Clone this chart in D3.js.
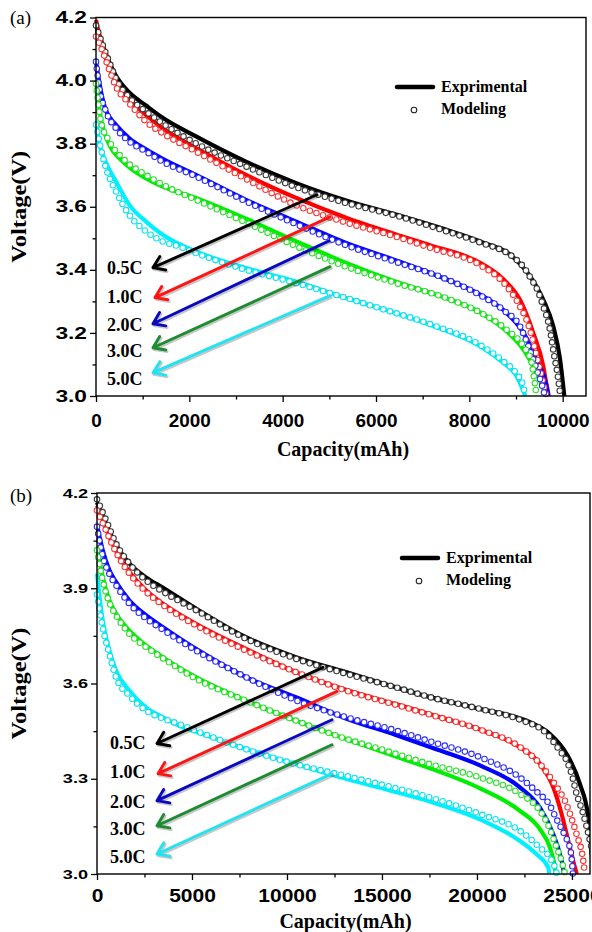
<!DOCTYPE html>
<html>
<head>
<meta charset="utf-8">
<script src="https://cdn.jsdelivr.net/npm/d3@7"></script>
<style>
  html, body { margin: 0; padding: 0; background: #fff; }
  svg { display: block; }
</style>
</head>
<body>
<svg id="chart" width="592" height="932"></svg>
<script>
// Discharge curves, experiment vs model, two cells (a) and (b)

const RATES = ['0.5C', '1.0C', '2.0C', '3.0C', '5.0C'];

// panel (a) - experimental [capacity mAh, voltage V]
const expA05 = [[0,4.176],[143,4.113],[286,4.058],[429,4.015],[714,3.962],[1071,3.921],[1429,3.882],[2143,3.823],[3214,3.743],[4290,3.675],[5360,3.62],[6430,3.575],[7510,3.527],[8230,3.49],[8940,3.44],[9300,3.38],[9585,3.305],[9800,3.22],[9940,3.12],[10035,3.0]];
const expA10 = [[0,4.192],[143,4.102],[286,4.043],[429,3.995],[714,3.94],[1071,3.891],[1429,3.849],[2143,3.786],[3214,3.701],[4290,3.628],[5360,3.565],[6430,3.512],[7160,3.478],[8230,3.422],[8730,3.37],[9085,3.305],[9370,3.2],[9585,3.094],[9690,3.0]];
const expA20 = [[0,4.06],[107,3.965],[214,3.905],[429,3.86],[714,3.817],[1071,3.782],[1429,3.752],[2143,3.701],[3214,3.622],[4290,3.553],[5360,3.485],[6430,3.43],[7510,3.37],[8230,3.322],[8800,3.263],[9160,3.2],[9440,3.115],[9660,3.03],[9700,3.0]];
const expA30 = [[0,3.997],[93,3.891],[286,3.796],[500,3.754],[714,3.725],[1071,3.69],[1429,3.664],[2143,3.628],[3214,3.562],[4290,3.49],[5360,3.422],[6430,3.362],[7510,3.31],[8230,3.265],[8800,3.205],[9160,3.147],[9440,3.073],[9660,3.0]];
const expA50 = [[0,3.87],[71,3.80],[214,3.74],[429,3.68],[714,3.606],[1071,3.553],[1429,3.511],[2143,3.458],[3214,3.406],[4286,3.363],[5357,3.311],[6085,3.278],[7157,3.226],[8228,3.158],[8728,3.105],[9014,3.063],[9200,3.0]];

// panel (a) - modeling
const modA05 = [[0,4.175],[143,4.113],[286,4.058],[429,4.005],[714,3.946],[1071,3.902],[1429,3.864],[2143,3.801],[3214,3.728],[4286,3.662],[5357,3.612],[6429,3.572],[7514,3.522],[8228,3.487],[8942,3.44],[9150,3.411],[9330,3.37],[9457,3.337],[9585,3.284],[9714,3.22],[9815,3.131],[9907,3.052],[9950,3.0]];
const modA10 = [[0,4.14],[143,4.092],[286,4.034],[429,3.981],[714,3.928],[1071,3.87],[1429,3.833],[2143,3.775],[3214,3.688],[4286,3.605],[5357,3.55],[6429,3.505],[7157,3.47],[8228,3.415],[8728,3.36],[9085,3.284],[9264,3.226],[9370,3.17],[9478,3.105],[9585,3.04],[9650,3.0]];
const modA20 = [[0,4.06],[71,3.976],[214,3.902],[429,3.849],[714,3.807],[1071,3.775],[1429,3.743],[2143,3.696],[3214,3.617],[4286,3.545],[5357,3.478],[6429,3.425],[7514,3.37],[8228,3.32],[8750,3.27],[9085,3.221],[9264,3.158],[9443,3.084],[9585,3.02],[9620,3.0]];
const modA30 = [[0,3.99],[107,3.87],[286,3.807],[571,3.754],[1071,3.701],[1429,3.67],[2143,3.622],[3214,3.55],[4286,3.475],[5357,3.41],[6429,3.358],[7514,3.31],[8228,3.265],[8800,3.21],[9157,3.158],[9336,3.105],[9371,3.073],[9443,3.0]];
const modA50 = [[0,3.86],[71,3.807],[214,3.722],[430,3.648],[714,3.574],[1071,3.522],[1429,3.49],[1786,3.474],[2143,3.453],[3214,3.4],[4286,3.358],[5357,3.311],[6085,3.278],[7157,3.228],[8228,3.162],[8728,3.11],[9014,3.07],[9157,3.031],[9190,3.0]];

// panel (b) - experimental
const expB05 = [[0,4.17],[473,4.104],[824,4.057],[1175,4.02],[1701,3.978],[2578,3.934],[3455,3.902],[5209,3.836],[7840,3.746],[10470,3.683],[13100,3.636],[15730,3.588],[17526,3.557],[20158,3.52],[22789,3.478],[23842,3.441],[24719,3.378],[25421,3.283],[25860,3.178],[26036,3.07]];
const expB10 = [[0,4.16],[473,4.09],[824,4.04],[1175,3.999],[1701,3.952],[2578,3.894],[3455,3.852],[5209,3.788],[7840,3.709],[10470,3.636],[13100,3.58],[15730,3.535],[17526,3.503],[20158,3.455],[22263,3.399],[23316,3.347],[24018,3.273],[24456,3.189],[24807,3.104],[25158,3.02],[25250,3.0]];
const expB20 = [[0,4.1],[298,4.02],[649,3.957],[1000,3.92],[1701,3.862],[2578,3.815],[3455,3.778],[5209,3.709],[7840,3.62],[10470,3.557],[13100,3.49],[15730,3.438],[17526,3.40],[20158,3.342],[22263,3.273],[23316,3.209],[24018,3.125],[24368,3.062],[24544,3.015],[24580,3.0]];
const expB30 = [[0,4.03],[298,3.936],[649,3.862],[1000,3.82],[1701,3.767],[2578,3.72],[3455,3.683],[5209,3.62],[7840,3.546],[10470,3.483],[13100,3.425],[15730,3.37],[17526,3.333],[20158,3.27],[22263,3.199],[23316,3.141],[23842,3.083],[24105,3.02],[24150,3.0]];
const expB50 = [[0,3.946],[298,3.799],[649,3.704],[1000,3.641],[1701,3.578],[2578,3.525],[3455,3.494],[4332,3.467],[5209,3.448],[7840,3.394],[10470,3.346],[13100,3.30],[15730,3.258],[17526,3.228],[20158,3.172],[22263,3.104],[23140,3.062],[23754,3.02],[23800,3.0]];

// panel (b) - modeling
const modB05 = [[0,4.18],[473,4.115],[1000,4.041],[1701,3.978],[2578,3.925],[3455,3.89],[5209,3.831],[7840,3.741],[10470,3.678],[13100,3.631],[15730,3.588],[17526,3.557],[20158,3.52],[22263,3.486],[23684,3.441],[24368,3.388],[24719,3.357],[24982,3.315],[25246,3.252],[25596,3.189],[25947,3.104],[26100,3.06]];
const modB10 = [[0,4.145],[473,4.082],[824,4.035],[1175,3.995],[1701,3.947],[2578,3.889],[3455,3.848],[5209,3.783],[7840,3.704],[10470,3.636],[13100,3.578],[15730,3.533],[17526,3.502],[20158,3.455],[22263,3.40],[23316,3.347],[24018,3.29],[24368,3.258],[24632,3.231],[24895,3.189],[25246,3.125],[25596,3.041],[25680,3.0]];
const modB20 = [[0,4.094],[298,4.0],[649,3.945],[1000,3.91],[1701,3.852],[2578,3.805],[3455,3.77],[5209,3.704],[7840,3.62],[10470,3.547],[13100,3.494],[15730,3.452],[17526,3.418],[20158,3.368],[22263,3.304],[23316,3.25],[23668,3.231],[24281,3.162],[24596,3.125],[24947,3.067],[25050,3.0]];
const modB30 = [[0,4.02],[298,3.925],[649,3.855],[1000,3.815],[1701,3.757],[2578,3.715],[3455,3.68],[5209,3.615],[7840,3.546],[10470,3.483],[13100,3.426],[14895,3.394],[17526,3.346],[20158,3.304],[22263,3.252],[23316,3.199],[23842,3.141],[24193,3.083],[24456,3.041],[24632,3.0]];
const modB50 = [[0,3.88],[298,3.777],[649,3.693],[1000,3.62],[1701,3.562],[2578,3.515],[3455,3.49],[4332,3.472],[5209,3.451],[7840,3.393],[10470,3.346],[13100,3.309],[14895,3.283],[17526,3.241],[20158,3.189],[22263,3.136],[23316,3.083],[23842,3.052],[24105,3.02],[24200,3.0]];

// arrow annotations in data units: [fromCap, fromV, toCap, toV]
const arrowsA = [[4735,3.638,1221,3.407],[5014,3.568,1264,3.312],[4993,3.492,1221,3.229],[5014,3.410,1221,3.153],[5014,3.318,1221,3.074]];
const arrowsB = [[11895,3.651,3158,3.411],[12632,3.575,3211,3.316],[12368,3.486,3158,3.231],[12368,3.407,3158,3.152],[12368,3.316,3158,3.063]];
// rate label anchors (capacity, baseline voltage)
const labelsA = [[236,3.388],[236,3.296],[236,3.207],[236,3.125],[236,3.036]];
const labelsB = [[684,3.394],[684,3.303],[684,3.208],[684,3.123],[684,3.035]];

// ticks
const xTicksA = [0, 2000, 4000, 6000, 8000, 10000];
const xMinorA = [1000, 3000, 5000, 7000, 9000];
const yTicksA = [3.0, 3.2, 3.4, 3.6, 3.8, 4.0, 4.2];
const yMinorA = [3.1, 3.3, 3.5, 3.7, 3.9, 4.1];
const xTicksB = [0, 5000, 10000, 15000, 20000, 25000];
const xMinorB = [2500, 7500, 12500, 17500, 22500];
const yTicksB = [3.0, 3.3, 3.6, 3.9, 4.2];
const yMinorB = [3.15, 3.45, 3.75, 4.05];

const LINE_COLORS = ['#000000', '#ff0000', '#0000ff', '#00ee00', '#00f0ff'];
const DOT_COLORS = ['#3a3a3a', '#f03a3a', '#3030f0', '#30dd30', '#10e0ee'];
const ARROW_COLORS = ['#000000', '#ff1414', '#0808c0', '#1c8c30', '#22e4f0'];

const SANS = "'Liberation Sans', Arial, sans-serif";
const SERIF = "'Liberation Serif', 'Times New Roman', serif";

const svg = d3.select('#chart');

const panels = [
    {
        id: 'a', tag: '(a)', tagY: 24,
        left: 96, right: 586, top: 17.5, bottom: 396, xMax: 10500,
        exp: [expA05, expA10, expA20, expA30, expA50],
        mod: [modA05, modA10, modA20, modA30, modA50],
        arrows: arrowsA, labels: labelsA,
        xTicks: xTicksA, xMinor: xMinorA, yTicks: yTicksA, yMinor: yMinorA,
        yFont: 16, yStretch: 1.42, xFont: 17.5, xStretch: 1.08, xPad: 13,
        xTitleY: 456, legend: { x: 397, y: 87 }
    },
    {
        id: 'b', tag: '(b)', tagY: 502,
        left: 97, right: 590, top: 493, bottom: 874, xMax: 25950,
        exp: [expB05, expB10, expB20, expB30, expB50],
        mod: [modB05, modB10, modB20, modB30, modB50],
        arrows: arrowsB, labels: labelsB,
        xTicks: xTicksB, xMinor: xMinorB, yTicks: yTicksB, yMinor: yMinorB,
        yFont: 12.5, yStretch: 1.45, xFont: 17.5, xStretch: 1.2, xPad: 10,
        xTitleY: 928, legend: { x: 402, y: 558 }
    }
];

function stretchText(sel, factor) {
    sel.each(function () {
        const w = this.getComputedTextLength();
        if (w > 0) {
            d3.select(this)
                .attr('textLength', w * factor)
                .attr('lengthAdjust', 'spacingAndGlyphs');
        }
    });
}

function drawArrow(g, x1, y1, x2, y2, color) {
    const ang = Math.atan2(y2 - y1, x2 - x1);
    const L = 13, spread = 0.6;
    const h1 = [x2 - L * Math.cos(ang - spread), y2 - L * Math.sin(ang - spread)];
    const h2 = [x2 - L * Math.cos(ang + spread), y2 - L * Math.sin(ang + spread)];
    const d = (dx, dy) => `M${x1 + dx},${y1 + dy}L${x2 + dx},${y2 + dy}` +
        `M${h1[0] + dx},${h1[1] + dy}L${x2 + dx},${y2 + dy}L${h2[0] + dx},${h2[1] + dy}`;

    // soft drop shadow
    g.append('path')
        .attr('d', d(1.2, 1.6))
        .attr('fill', 'none')
        .attr('stroke', 'rgba(0,0,0,0.22)')
        .attr('stroke-width', 3.2)
        .attr('stroke-linecap', 'round')
        .attr('stroke-linejoin', 'round');

    g.append('path')
        .attr('d', d(0, 0))
        .attr('fill', 'none')
        .attr('stroke', color)
        .attr('stroke-width', 2.9)
        .attr('stroke-linecap', 'round')
        .attr('stroke-linejoin', 'round');
}

function drawPanel(p) {
    const x = d3.scaleLinear().domain([0, p.xMax]).range([p.left, p.right]);
    const y = d3.scaleLinear().domain([3.0, 4.2]).range([p.bottom, p.top]);

    const clipId = `clip-${p.id}`;
    svg.append('clipPath').attr('id', clipId)
        .append('rect')
        .attr('x', p.left - 5)
        .attr('y', p.top - 5)
        .attr('width', p.right - p.left + 5)
        .attr('height', p.bottom - p.top + 8);

    const line = d3.line()
        .x(d => x(d[0]))
        .y(d => y(d[1]))
        .curve(d3.curveMonotoneX);

    const plot = svg.append('g').attr('clip-path', `url(#${clipId})`);

    // experimental curves
    p.exp.forEach((series, i) => {
        plot.append('path')
            .datum(series)
            .attr('fill', 'none')
            .attr('stroke', LINE_COLORS[i])
            .attr('stroke-width', 4.2)
            .attr('stroke-linejoin', 'round')
            .attr('d', line);
    });

    // modeling curves drawn as a row of open circles
    p.mod.forEach((series, i) => {
        plot.append('path')
            .datum(series)
            .attr('fill', 'none')
            .attr('stroke', DOT_COLORS[i])
            .attr('stroke-width', 6.6)
            .attr('stroke-linecap', 'round')
            .attr('stroke-dasharray', '0 7')
            .attr('d', line);
        plot.append('path')
            .datum(series)
            .attr('fill', 'none')
            .attr('stroke', '#ffffff')
            .attr('stroke-width', 4.4)
            .attr('stroke-linecap', 'round')
            .attr('stroke-dasharray', '0 7')
            .attr('d', line);
    });

    // frame
    svg.append('rect')
        .attr('x', p.left)
        .attr('y', p.top)
        .attr('width', p.right - p.left)
        .attr('height', p.bottom - p.top)
        .attr('fill', 'none')
        .attr('stroke', '#000')
        .attr('stroke-width', 1.4);

    // x axis
    const gx = svg.append('g')
        .attr('transform', `translate(0,${p.bottom})`)
        .call(d3.axisBottom(x).tickValues(p.xTicks).tickSize(6).tickPadding(p.xPad).tickFormat(d3.format('d')));
    svg.append('g')
        .attr('transform', `translate(0,${p.bottom})`)
        .call(d3.axisBottom(x).tickValues(p.xMinor).tickSize(3.5).tickFormat(''));

    // y axis
    const gy = svg.append('g')
        .attr('transform', `translate(${p.left},0)`)
        .call(d3.axisLeft(y).tickValues(p.yTicks).tickSize(6).tickPadding(3).tickFormat(d3.format('.1f')));
    svg.append('g')
        .attr('transform', `translate(${p.left},0)`)
        .call(d3.axisLeft(y).tickValues(p.yMinor).tickSize(3.5).tickFormat(''));

    svg.selectAll('.domain').remove();
    svg.selectAll('.tick line').attr('stroke', '#000').attr('stroke-width', 1.3);

    gx.selectAll('text')
        .attr('font-family', SANS)
        .attr('font-weight', 'bold')
        .attr('font-size', p.xFont)
        .attr('fill', '#000');
    stretchText(gx.selectAll('text'), p.xStretch);

    gy.selectAll('text')
        .attr('font-family', SANS)
        .attr('font-weight', 'bold')
        .attr('font-size', p.yFont)
        .attr('fill', '#000');
    stretchText(gy.selectAll('text'), p.yStretch);

    // axis titles
    svg.append('text')
        .attr('x', (p.left + p.right) / 2 + 2)
        .attr('y', p.xTitleY)
        .attr('text-anchor', 'middle')
        .attr('font-family', SERIF)
        .attr('font-weight', 'bold')
        .attr('font-size', 20)
        .text('Capacity(mAh)');

    svg.append('text')
        .attr('transform', `translate(26,${(p.top + p.bottom) / 2}) rotate(-90)`)
        .attr('text-anchor', 'middle')
        .attr('font-family', SERIF)
        .attr('font-weight', 'bold')
        .attr('font-size', 20)
        .attr('textLength', 112)
        .attr('lengthAdjust', 'spacingAndGlyphs')
        .text('Voltage(V)');

    // panel tag
    svg.append('text')
        .attr('x', 10)
        .attr('y', p.tagY)
        .attr('font-family', SERIF)
        .attr('font-size', 19)
        .text(p.tag);

    // arrows and rate labels
    const ann = svg.append('g');
    p.arrows.forEach((a, i) => {
        drawArrow(ann, x(a[0]), y(a[1]), x(a[2]), y(a[3]), ARROW_COLORS[i]);
    });
    p.labels.forEach((l, i) => {
        ann.append('text')
            .attr('x', x(l[0]))
            .attr('y', y(l[1]))
            .attr('font-family', SERIF)
            .attr('font-weight', 'bold')
            .attr('font-size', 18)
            .attr('fill', '#000')
            .text(RATES[i]);
    });

    // legend
    const lg = svg.append('g').attr('transform', `translate(${p.legend.x},${p.legend.y})`);
    lg.append('line')
        .attr('x1', 0).attr('x2', 36)
        .attr('y1', 0).attr('y2', 0)
        .attr('stroke', '#000')
        .attr('stroke-width', 4.5)
        .attr('stroke-linecap', 'round');
    lg.append('circle')
        .attr('cx', 17).attr('cy', 23)
        .attr('r', 2.8)
        .attr('fill', '#fff')
        .attr('stroke', '#222')
        .attr('stroke-width', 1.1);
    lg.append('text')
        .attr('x', 44).attr('y', 5)
        .attr('font-family', SERIF)
        .attr('font-weight', 'bold')
        .attr('font-size', 16)
        .text('Exprimental');
    lg.append('text')
        .attr('x', 44).attr('y', 27)
        .attr('font-family', SERIF)
        .attr('font-weight', 'bold')
        .attr('font-size', 16)
        .text('Modeling');
}

panels.forEach(drawPanel);
</script>
</body>
</html>
